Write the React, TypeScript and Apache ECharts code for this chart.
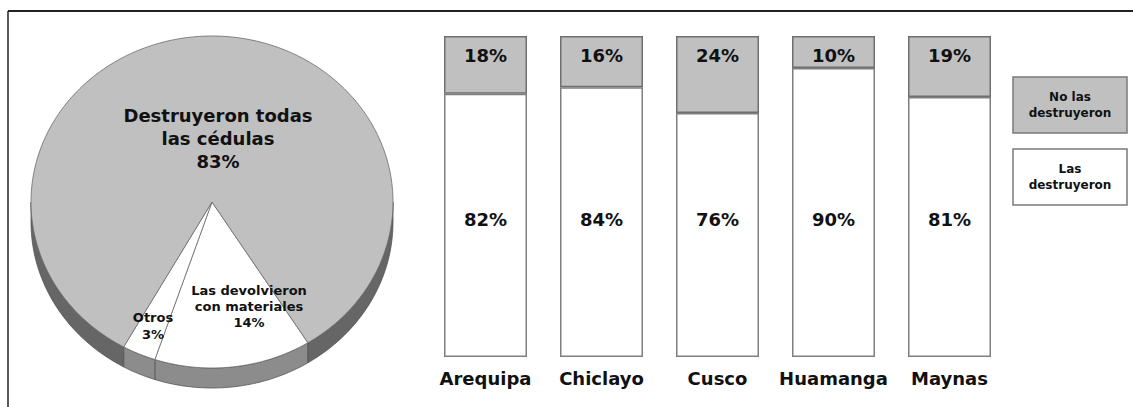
import React, { useEffect, useRef } from "react";
import * as echarts from "echarts";

// ---- data ----
const categories = ["Arequipa", "Chiclayo", "Cusco", "Huamanga", "Maynas"];
const noDestruyeron = [18, 16, 24, 10, 19];
const siDestruyeron = [82, 84, 76, 90, 81];
const seriesNames = ["No las destruyeron", "Las destruyeron"];
const legendLabels = ["No las\ndestruyeron", "Las\ndestruyeron"];

const pieNames = ["Las devolvieron\ncon materiales", "Otros", "Destruyeron todas\nlas cédulas"];
const pieValues = [14, 3, 83];

// ---- layout / style ----
const FONT = "DejaVu Sans";
const CX = 212, CY = 202, RX = 181, RY = 166, DEPTH = 20;
const START = 148; // degrees, clockwise from top (parametric)
const pieTopColors = ["#ffffff", "#ffffff", "#c0c0c0"];
const pieSideColors = ["#8c8c8c", "#8c8c8c", "#666666"];
const pieLabelPos = [[249, 306], [153, 326], [218, 138]];
const pieLabelSize = [13, 13, 18];
const pieLabelLH = [16, 17, 23];

function ell(phi: number, dy = 0): number[] {
  const r = (phi * Math.PI) / 180;
  return [CX + RX * Math.sin(r), CY - RY * Math.cos(r) + dy];
}
function arc(a: number, b: number, dy = 0): number[][] {
  const pts: number[][] = [];
  const n = Math.max(2, Math.ceil(Math.abs(b - a)));
  for (let i = 0; i <= n; i++) pts.push(ell(a + ((b - a) * i) / n, dy));
  return pts;
}

export default function App() {
  const ref = useRef<HTMLDivElement>(null);
  useEffect(() => {
    if (!ref.current) return;
    const chart = echarts.init(ref.current, null, { renderer: "svg" });
    const total = pieValues.reduce((s, v) => s + v, 0);
    const cum: number[] = [];
    let acc = 0;
    pieValues.forEach((v) => { cum.push(acc); acc += v; });

    const renderPie = (params: any, api: any) => {
      const i = params.dataIndex;
      const v = api.value(0);
      const a = START + (cum[i] / total) * 360;
      const b = a + (v / total) * 360;
      const children: any[] = [];
      for (let k = 0; k < 2; k++) {
        const lo = Math.max(a, 90 + 360 * k);
        const hi = Math.min(b, 270 + 360 * k);
        if (hi > lo) {
          const top = arc(lo, hi);
          const bot = arc(hi, lo, DEPTH);
          children.push({
            type: "polygon",
            z2: 1,
            shape: { points: top.concat(bot) },
            style: { fill: pieSideColors[i], stroke: "#555", lineWidth: 0.8 },
          });
        }
      }
      children.push({
        type: "polygon",
        z2: 2,
        shape: { points: [[CX, CY]].concat(arc(a, b)) },
        style: { fill: pieTopColors[i], stroke: "#6a6a6a", lineWidth: 0.8 },
      });
      children.push({
        type: "text",
        z2: 50,
        x: pieLabelPos[i][0],
        y: pieLabelPos[i][1],
        style: {
          text: pieNames[i] + "\n" + v + "%",
          fill: "#111",
          fontFamily: FONT,
          fontWeight: "bold",
          fontSize: pieLabelSize[i],
          lineHeight: pieLabelLH[i],
          align: "center",
          verticalAlign: "middle",
        },
      });
      return { type: "group", children };
    };

    const legendGraphics: any[] = [];
    const legendFill = ["#c0c0c0", "#ffffff"];
    const legendY = [77, 149];
    legendLabels.forEach((t, i) => {
      legendGraphics.push({
        type: "rect",
        shape: { x: 1013, y: legendY[i], width: 114, height: 56 },
        style: { fill: legendFill[i], stroke: "#7a7a7a", lineWidth: 1.5 },
      });
      legendGraphics.push({
        type: "text",
        x: 1070,
        y: legendY[i] + 28,
        style: {
          text: t,
          fill: "#111",
          fontFamily: FONT,
          fontWeight: "bold",
          fontSize: 12,
          lineHeight: 16,
          align: "center",
          verticalAlign: "middle",
        },
      });
    });

    chart.setOption({
      animation: false,
      backgroundColor: "#ffffff",
      grid: { left: 427.5, width: 580, top: 36, height: 321, containLabel: false },
      xAxis: {
        type: "category",
        data: categories,
        axisLine: { show: false },
        axisTick: { show: false },
        axisLabel: {
          interval: 0,
          fontFamily: FONT,
          fontWeight: "bold",
          fontSize: 18,
          color: "#111",
          margin: 12,
        },
      },
      yAxis: { type: "value", min: 0, max: 100, show: false },
      graphic: [
        { type: "line", shape: { x1: 8, y1: 11, x2: 1133, y2: 11 }, style: { stroke: "#222", lineWidth: 2 } },
        { type: "line", shape: { x1: 8, y1: 11, x2: 8, y2: 407 }, style: { stroke: "#222", lineWidth: 1.5 } },
        ...legendGraphics,
      ],
      series: [
        {
          name: seriesNames[1],
          type: "bar",
          stack: "t",
          data: siDestruyeron,
          barWidth: 83,
          itemStyle: { color: "#ffffff", borderColor: "#7f7f7f", borderWidth: 1.5 },
          label: {
            show: true,
            position: "insideBottom",
            distance: 129,
            formatter: "{c}%",
            fontFamily: FONT,
            fontWeight: "bold",
            fontSize: 18,
            color: "#111",
          },
        },
        {
          name: seriesNames[0],
          type: "bar",
          stack: "t",
          data: noDestruyeron,
          barWidth: 83,
          itemStyle: { color: "#c0c0c0", borderColor: "#6f6f6f", borderWidth: 1.5 },
          label: {
            show: true,
            position: "insideTop",
            distance: 10,
            formatter: "{c}%",
            fontFamily: FONT,
            fontWeight: "bold",
            fontSize: 18,
            color: "#111",
          },
        },
        {
          type: "custom",
          coordinateSystem: "none",
          silent: true,
          renderItem: renderPie,
          data: pieValues.map((v, i) => ({ value: [v], name: pieNames[i] })),
        },
      ],
    });
    return () => chart.dispose();
  }, []);
  return (
    <div
      ref={ref}
      style={{ position: "fixed", left: 0, top: 0, width: 1133, height: 407 }}
    />
  );
}
